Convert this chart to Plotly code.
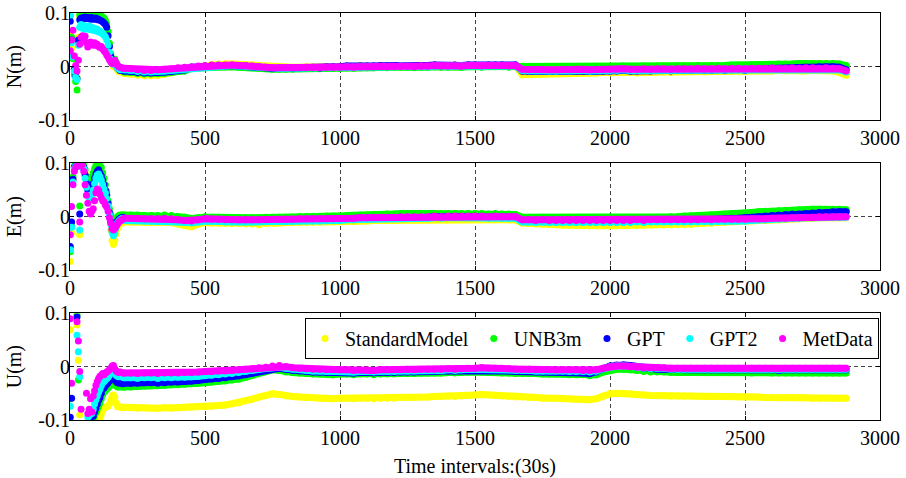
import plotly.graph_objects as go

# ---------------- data (values in millimetres) ----------------
EPOCHS_EARLY = list(range(1, 200, 5))        # 40 epochs, 1 .. 196
EPOCHS_LATE = list(range(200, 2876, 25))     # 108 epochs, 200 .. 2875

SERIES = ["StandardModel", "UNB3m", "GPT", "GPT2", "MetData"]
COLORS = ["#ffff00", "#00ff00", "#0000ff", "#00ffff", "#ff00ff"]
COMPONENTS = ["N(m)", "E(m)", "U(m)"]
X_TICKS = [0, 500, 1000, 1500, 2000, 2500, 3000]
Y_TICKS = [-0.1, 0, 0.1]
Y_TICK_TEXT = ["-0.1", "0", "0.1"]

# ---- N component ----
N_STD_E = [60, 35, 15, -5, -15, -20, 55, 95, 99, 97, 100, 98, 97, 99, 98, 99, 97, 98, 96, 97,
           95, 96, 93, 94, 91, 88, 84, 78, 62, 42, 22, 10, 0, 4, -2, -6, -9, -10, -10, -11]
N_UNB_E = [95, 55, 15, -15, -28, -44, 45, 97, 100, 98, 100, 99, 100, 98, 100, 97, 99, 98, 100, 97,
           98, 96, 97, 95, 93, 91, 87, 80, 66, 44, 24, 14, 10, 14, 8, 2, -2, -4, -5, -6]
N_GPT_E = [85, 50, 20, -5, -18, -22, 50, 88, 91, 89, 92, 93, 90, 92, 91, 89, 92, 89, 90, 91,
           88, 89, 87, 86, 84, 82, 79, 74, 58, 38, 19, 9, 5, 9, 2, -2, -5, -7, -7, -7]
N_GPT2_E = [97, 45, 18, -8, -20, -24, 40, 74, 79, 72, 77, 70, 75, 71, 76, 69, 74, 68, 72, 67,
            70, 65, 67, 63, 62, 59, 56, 50, 40, 27, 14, 7, 4, 8, 1, -2, -4, -6, -5, -5]
N_MET_E = [30, 50, 68, 20, 2, -8, 12, 42, 55, 58, 52, 57, 45, 37, 42, 46, 44, 40, 45, 40,
           42, 38, 36, 38, 33, 30, 27, 22, 18, 13, 9, 6, 8, 12, 7, 2, 0, -1, -2, -3]

N_STD_L = [-13, -14, -16, -17, -17, -16, -14, -12, -9, -6,
           -3, 0, 2, 4, 5, 5, 5, 4, 4, 3,
           1, 0, -1, -1, -1, -1, -1, 0, 0, -1,
           0, 0, 0, 1, 0, 2, 1, 1, 2, 1,
           2, 2, 2, 1, 3, 2, 3, 2, 2, 3,
           2, 3, 3, 2, 2, 2, 3, 2, 2,
           -15, -15, -14, -14, -13, -13, -13, -12, -12, -12,
           -12, -12, -11, -12, -11, -11, -11, -12, -11, -11,
           -10, -10, -11, -10, -10, -10, -9, -10, -9, -9,
           -9, -9, -8, -9, -8, -8, -8, -8, -7, -8,
           -7, -7, -8, -7, -7, -7, -8, -11, -16]
N_UNB_L = [-10, -11, -13, -14, -14, -13, -12, -11, -9, -8,
           -3, -2, -1, 0, 0, 0, 0, -1, -1, -2,
           -3, -4, -5, -5, -5, -5, -4, -3, -3, -4,
           -3, -3, -3, -2, -3, -2, -2, -2, -1, -2,
           -1, -1, -1, -2, -1, -1, 0, -1, -1, 0,
           -1, 0, 0, -1, 0, 0, 0, -1, 0,
           0, -1, -1, 0, -1, -1, 0, -1, 0, 0,
           -1, 0, 0, 0, 0, 1, 0, 0, 1, 0,
           1, 1, 0, 1, 1, 1, 2, 1, 2, 2,
           2, 3, 3, 2, 3, 4, 4, 4, 5, 5,
           5, 6, 6, 6, 6, 6, 6, 5, 2]
N_GPT_L = [-8, -9, -11, -12, -12, -11, -10, -9, -7, -6,
           -1, 0, 1, 2, 2, 2, 2, 1, 1, 0,
           -1, -2, -3, -3, -3, -3, -3, -2, -2, -3,
           0, 0, 0, 1, 0, 1, 1, 1, 2, 1,
           2, 2, 2, 1, 2, 2, 3, 2, 2, 3,
           2, 3, 3, 2, 3, 3, 3, 2, 3,
           -8, -9, -9, -8, -9, -9, -8, -9, -8, -8,
           -9, -8, -8, -8, -8, -7, -8, -8, -7, -8,
           -7, -7, -8, -7, -7, -7, -6, -7, -7, -6,
           -7, -6, -6, -7, -5, -5, -4, -3, -3, -3,
           -2, -2, -1, -1, 0, 0, 0, -1, -6]
N_GPT2_L = [-6, -7, -9, -10, -10, -9, -8, -7, -5, -4,
            -1, 0, 1, 2, 3, 2, 2, 1, 1, 0,
            -1, -2, -2, -3, -3, -2, -3, -2, -1, -2,
            -1, -1, -1, 0, -1, 0, 0, 0, 0, 0,
            0, 1, 0, 0, 1, 0, 1, 1, 0, 1,
            1, 1, 1, 0, 1, 1, 1, 1, 1,
            -7, -8, -8, -7, -8, -8, -7, -8, -7, -7,
            -8, -7, -7, -7, -7, -6, -7, -7, -6, -7,
            -6, -6, -7, -6, -6, -6, -5, -6, -6, -5,
            -6, -5, -5, -6, -5, -5, -5, -4, -5, -5,
            -4, -5, -4, -4, -4, -4, -5, -6, -10]
N_MET_L = [-3, -4, -6, -7, -7, -6, -5, -4, -2, -1,
           0, 1, 2, 3, 3, 3, 3, 2, 2, 1,
           0, -1, -2, -2, -2, -2, -2, -1, -1, -2,
           -1, -1, -1, 0, -1, 0, 0, 0, 1, 0,
           1, 1, 1, 0, 1, 1, 2, 1, 1, 2,
           1, 2, 2, 1, 2, 2, 2, 1, 2,
           -5, -6, -6, -5, -6, -6, -5, -6, -5, -5,
           -6, -5, -5, -5, -5, -4, -5, -5, -4, -5,
           -4, -4, -5, -4, -4, -4, -3, -4, -4, -3,
           -4, -3, -3, -4, -3, -3, -3, -2, -3, -3,
           -2, -3, -2, -2, -3, -2, -3, -4, -8]

# ---- E component ----
E_STD_E = [-84, -30, 70, 94, 97, 98, 97, -34, 96, 99, 95, 82, 68, 58, 52, 55, 62, 72, 82, 88,
           90, 92, 88, 80, 70, 60, 48, 36, 20, 0, -25, -45, -52, -45, -32, -22, -16, -13, -12, -11]
E_UNB_E = [-66, -19, 75, 95, 99, 100, 99, 20, 98, 100, 97, 88, 75, 68, 65, 68, 75, 82, 90, 96,
           98, 100, 97, 92, 82, 72, 60, 47, 30, 15, 4, -8, -14, -10, -4, 0, 2, 3, 3, 3]
E_GPT_E = [-56, -10, 70, 92, 95, 96, 95, 5, 95, 97, 92, 78, 62, 50, 45, 48, 55, 62, 72, 80,
           85, 88, 82, 76, 68, 60, 50, 40, 25, 8, -10, -25, -30, -25, -15, -8, -5, -3, -2, -1]
E_GPT2_E = [-62, -20, 65, 90, 94, 95, 94, -25, 93, 96, 90, 72, 55, 40, 32, 35, 42, 50, 62, 72,
            78, 80, 75, 68, 60, 52, 44, 34, 20, 4, -15, -30, -36, -30, -20, -12, -8, -6, -4, -3]
E_MET_E = [-34, 19, 60, 85, 92, 95, 98, -10, 95, 98, 85, 60, 40, 25, 10, 5, 10, 15, 30, 45,
           52, 50, 42, 35, 30, 28, 22, 18, 10, -2, -12, -22, -25, -22, -18, -14, -10, -8, -6, -5]

E_STD_L = [-10, -10, -10, -11, -11, -11, -10, -11, -14, -17,
           -19, -14, -11, -12, -12, -13, -13, -13, -14, -14,
           -15, -13, -12, -12, -11, -11, -10, -10, -10, -10,
           -10, -10, -10, -9, -9, -8, -8, -7, -7, -7,
           -7, -6, -6, -6, -6, -6, -5, -6, -5, -5,
           -5, -5, -5, -5, -6, -5, -6, -6, -6,
           -12, -13, -14, -14, -15, -15, -16, -16, -16, -17,
           -17, -17, -17, -17, -17, -17, -16, -16, -16, -15,
           -15, -15, -15, -14, -14, -14, -13, -12, -12, -11,
           -10, -9, -9, -8, -8, -7, -7, -6, -6, -5,
           -4, -4, -3, -3, -2, -2, -2, -2, -2]
E_UNB_L = [3, 3, 3, 2, 2, 2, 3, 2, 0, -1,
           -4, -2, 0, -1, -1, -2, -2, -2, -2, -2,
           -2, -1, -1, -1, -1, -1, 0, 0, 0, 0,
           1, 1, 1, 2, 2, 3, 3, 4, 4, 5,
           5, 6, 5, 5, 6, 6, 6, 5, 6, 6,
           6, 6, 6, 6, 5, 6, 5, 5, 4,
           -1, -1, -2, -1, -2, -2, -2, -3, -3, -3,
           -3, -3, -3, -3, -3, -3, -2, -2, -2, -1,
           -1, -1, 0, 0, 1, 1, 2, 2, 3, 4,
           5, 5, 6, 7, 8, 9, 10, 10, 11, 12,
           12, 13, 13, 14, 14, 14, 14, 14, 13]
E_GPT_L = [-5, -5, -5, -6, -6, -6, -5, -6, -8, -9,
           -10, -8, -6, -7, -7, -8, -8, -8, -8, -8,
           -8, -7, -7, -7, -7, -7, -6, -6, -6, -6,
           -5, -5, -5, -4, -4, -3, -3, -2, -2, -2,
           -2, -1, -1, -1, -1, -1, 0, -1, 0, 0,
           0, 0, 0, 0, -1, 0, -1, -1, -1,
           -9, -9, -10, -9, -10, -10, -10, -10, -10, -10,
           -10, -10, -10, -10, -10, -10, -10, -9, -10, -9,
           -9, -9, -9, -8, -8, -8, -7, -6, -6, -5,
           -4, -3, -3, -2, -1, 0, 1, 2, 3, 4,
           5, 5, 6, 7, 8, 8, 9, 9, 9]
E_GPT2_L = [-7, -7, -7, -8, -8, -8, -7, -8, -10, -11,
            -12, -10, -8, -9, -9, -10, -10, -10, -10, -10,
            -10, -9, -9, -9, -9, -9, -8, -8, -8, -8,
            -7, -7, -7, -6, -6, -5, -5, -4, -4, -4,
            -4, -3, -3, -3, -3, -3, -2, -3, -2, -2,
            -2, -2, -2, -2, -3, -2, -3, -3, -3,
            -10, -10, -11, -10, -11, -11, -11, -11, -11, -11,
            -11, -11, -11, -11, -11, -11, -11, -10, -11, -10,
            -10, -10, -10, -10, -10, -10, -10, -9, -10, -9,
            -9, -8, -8, -8, -7, -6, -6, -5, -4, -4,
            -3, -3, -2, -2, -1, -1, -1, -1, -1]
E_MET_L = [-3, -3, -3, -4, -4, -4, -3, -4, -6, -7,
           -8, -6, -4, -5, -5, -6, -6, -6, -6, -6,
           -6, -5, -5, -5, -5, -5, -4, -4, -4, -4,
           -4, -4, -4, -3, -3, -2, -2, -1, -1, -1,
           -1, 0, 0, 0, 0, 0, 1, 0, 1, 1,
           1, 1, 1, 1, 0, 1, 0, 0, 0,
           -6, -6, -7, -6, -7, -7, -7, -7, -7, -7,
           -7, -7, -7, -7, -7, -7, -7, -6, -7, -6,
           -6, -6, -6, -6, -6, -6, -6, -5, -6, -5,
           -5, -5, -5, -5, -4, -4, -4, -3, -3, -3,
           -2, -2, -1, -1, 0, 0, 0, 0, 0]

# ---- U component (values below -100 mm lie outside the plotted range) ----
U_STD_E = [69, -150, -150, -150, -150, 78, 12, -90, -150, -150,
           -150, -150, -150, -150, -150, -150, -150, -150, -150, -150,
           -150, -99, -97, -90, -82, -78, -76, -75, -74, -70,
           -62, -55, -53, -58, -68, -75, -74, -75, -77, -76]
U_UNB_E = [-60, -150, -150, -150, -150, 97, -25, -150, -150, -150,
           -150, -150, -150, -150, -150, -99, -96, -97, -92, -86,
           -80, -74, -68, -60, -52, -48, -45, -42, -40, -37,
           -35, -31, -30, -32, -36, -38, -38, -37, -38, -38]
U_GPT_E = [-95, -59, -150, -150, -150, 93, -150, -150, -150, -150,
           -150, -150, -150, -150, -98, -95, -90, -93, -85, -78,
           -70, -63, -58, -50, -42, -40, -36, -33, -30, -27,
           -24, -21, -20, -24, -28, -30, -31, -30, -31, -32]
U_GPT2_E = [-74, 150, -150, -150, -150, 59, 28, -19, -150, -150,
            -150, -150, -150, -95, -92, -85, -88, -80, -70, -62,
            -55, -48, -42, -36, -30, -28, -25, -22, -20, -16,
            -12, -8, -7, -12, -16, -18, -19, -18, -19, -20]
U_MET_E = [90, -31, -150, -150, -150, 84, 48, -9, -80, -150,
           -150, -150, -50, -88, -80, -60, -85, -55, -45, -35,
           -28, -22, -18, -16, -13, -15, -12, -10, -8, -6,
           -3, 1, 2, -4, -8, -10, -11, -10, -11, -12]

U_STD_L = [-76, -77, -78, -77, -78, -78, -77, -78, -77, -76,
           -76, -75, -75, -74, -73, -72, -70, -68, -64, -61,
           -57, -54, -51, -52, -55, -56, -57, -58, -58, -59,
           -59, -60, -59, -59, -60, -59, -59, -60, -59, -59,
           -59, -58, -58, -58, -57, -57, -56, -56, -55, -56,
           -55, -54, -53, -52, -53, -54, -55, -56, -57,
           -57, -58, -58, -59, -59, -59, -60, -60, -61, -61,
           -62, -60, -55, -51, -50, -50, -51, -52, -53, -54,
           -54, -54, -55, -55, -55, -55, -56, -56, -56, -56,
           -56, -56, -57, -57, -57, -57, -58, -58, -58, -58,
           -58, -58, -58, -59, -59, -59, -59, -59, -59]
U_UNB_L = [-38, -38, -37, -36, -36, -36, -35, -34, -34, -33,
           -32, -31, -30, -29, -28, -27, -25, -23, -20, -16,
           -12, -9, -6, -7, -10, -11, -12, -13, -14, -14,
           -14, -15, -14, -14, -15, -14, -14, -15, -14, -14,
           -14, -13, -13, -13, -12, -12, -12, -12, -11, -12,
           -11, -10, -10, -10, -11, -11, -12, -12, -13,
           -13, -13, -13, -14, -14, -14, -14, -15, -15, -15,
           -17, -15, -10, -6, -5, -5, -6, -7, -9, -10,
           -10, -10, -11, -11, -11, -11, -11, -11, -11, -11,
           -11, -11, -11, -11, -12, -11, -11, -12, -12, -12,
           -12, -12, -12, -12, -12, -12, -12, -12, -12]
U_GPT_L = [-31, -31, -31, -30, -30, -31, -30, -29, -29, -28,
           -27, -26, -24, -23, -22, -21, -19, -17, -15, -12,
           -9, -6, -3, -3, -5, -7, -8, -9, -10, -10,
           -11, -11, -11, -11, -12, -11, -11, -12, -11, -11,
           -11, -10, -10, -10, -9, -9, -9, -8, -8, -8,
           -7, -6, -6, -5, -6, -6, -7, -8, -9,
           -9, -9, -10, -10, -10, -10, -10, -11, -11, -12,
           -13, -10, -4, 1, 3, 3, 2, 0, -3, -4,
           -5, -5, -6, -6, -6, -6, -6, -6, -6, -6,
           -6, -6, -6, -6, -6, -6, -6, -6, -7, -6,
           -6, -6, -6, -6, -6, -6, -6, -6, -6]
U_GPT2_L = [-21, -21, -22, -21, -21, -22, -21, -21, -20, -20,
            -19, -18, -17, -16, -15, -14, -13, -11, -9, -7,
            -5, -3, -1, -1, -3, -5, -6, -7, -8, -8,
            -9, -9, -9, -9, -10, -9, -9, -10, -9, -9,
            -9, -8, -8, -8, -7, -7, -7, -7, -6, -7,
            -6, -5, -5, -4, -5, -5, -5, -6, -7,
            -7, -7, -8, -8, -8, -8, -8, -9, -9, -9,
            -10, -8, -4, 0, 1, 1, 0, -2, -3, -4,
            -4, -4, -5, -5, -5, -5, -5, -5, -5, -5,
            -5, -5, -5, -5, -5, -5, -5, -5, -6, -5,
            -5, -5, -5, -5, -5, -5, -5, -5, -5]
U_MET_L = [-12, -12, -13, -12, -12, -13, -12, -12, -12, -11,
           -11, -10, -9, -9, -8, -8, -7, -6, -5, -4,
           -2, -1, 1, 2, 0, -2, -3, -4, -5, -5,
           -6, -6, -6, -6, -7, -6, -6, -7, -6, -6,
           -6, -6, -5, -6, -5, -5, -5, -5, -4, -5,
           -4, -3, -3, -2, -3, -3, -3, -4, -5,
           -5, -5, -6, -6, -6, -6, -6, -6, -6, -7,
           -7, -6, -3, 0, 1, 1, 0, -1, -2, -2,
           -2, -2, -3, -3, -3, -3, -3, -3, -3, -3,
           -3, -3, -3, -3, -3, -3, -3, -3, -4, -3,
           -3, -3, -3, -3, -3, -3, -3, -3, -3]

EARLY = {
    "N(m)": [N_STD_E, N_UNB_E, N_GPT_E, N_GPT2_E, N_MET_E],
    "E(m)": [E_STD_E, E_UNB_E, E_GPT_E, E_GPT2_E, E_MET_E],
    "U(m)": [U_STD_E, U_UNB_E, U_GPT_E, U_GPT2_E, U_MET_E],
}
LATE = {
    "N(m)": [N_STD_L, N_UNB_L, N_GPT_L, N_GPT2_L, N_MET_L],
    "E(m)": [E_STD_L, E_UNB_L, E_GPT_L, E_GPT2_L, E_MET_L],
    "U(m)": [U_STD_L, U_UNB_L, U_GPT_L, U_GPT2_L, U_MET_L],
}

# ---------------- figure ----------------
W, H = 906, 478
FONT = "Liberation Serif, Times New Roman, serif"
PLOT_LEFT, PLOT_RIGHT = 70, 880
ROWS_PX = [(13.3, 120), (163.3, 270), (313.3, 420)]
MSIZE = 7

fig = go.Figure()
for r, comp in enumerate(COMPONENTS):
    suffix = "" if r == 0 else str(r + 1)
    for i, (name, color) in enumerate(zip(SERIES, COLORS)):
        # first epochs: scattered individual solutions
        fig.add_trace(go.Scatter(
            x=EPOCHS_EARLY, y=[v / 1000.0 for v in EARLY[comp][i]],
            mode="markers", name=name,
            marker=dict(color=color, size=MSIZE, line=dict(width=0)),
            xaxis="x" + suffix, yaxis="y" + suffix,
            showlegend=(r == 2), legendgroup=name, cliponaxis=True,
            hoverinfo="skip",
        ))
        # converged part: dense epochs drawn as a continuous dotted band
        fig.add_trace(go.Scatter(
            x=EPOCHS_LATE, y=[v / 1000.0 for v in LATE[comp][i]],
            mode="lines+markers", name=name,
            line=dict(color=color, width=MSIZE),
            marker=dict(color=color, size=MSIZE, line=dict(width=0)),
            xaxis="x" + suffix, yaxis="y" + suffix,
            showlegend=False, legendgroup=name, cliponaxis=True,
            hoverinfo="skip",
        ))

axis_common = dict(
    showline=True, linecolor="black", linewidth=1, mirror="ticks",
    ticks="inside", ticklen=4, tickcolor="black", tickwidth=1,
    showgrid=True, gridcolor="#444444", gridwidth=1, griddash="4px,3px",
    zeroline=False, automargin=False,
    tickfont=dict(family=FONT, size=20, color="black"),
)

layout = dict(
    width=W, height=H,
    margin=dict(l=0, r=0, t=0, b=0, autoexpand=False),
    paper_bgcolor="white", plot_bgcolor="white",
    showlegend=True,
    legend=dict(
        orientation="h", x=879 / W, xanchor="right", y=1 - 318 / H, yanchor="top",
        bordercolor="black", borderwidth=1, bgcolor="white",
        font=dict(family=FONT, size=20, color="black"),
        tracegroupgap=0, itemsizing="trace",
    ),
)

for r, comp in enumerate(COMPONENTS):
    suffix = "" if r == 0 else str(r + 1)
    top, bottom = ROWS_PX[r]
    xa = dict(axis_common)
    xa.update(
        domain=[PLOT_LEFT / W, PLOT_RIGHT / W], range=[0, 3000],
        tickvals=X_TICKS, ticktext=[str(t) for t in X_TICKS],
        anchor="y" + suffix, ticklabelstandoff=0,
    )
    if r == 2:
        xa["title"] = dict(text="Time intervals:(30s)", font=dict(family=FONT, size=20, color="black"), standoff=10)
    ya = dict(axis_common)
    ya.update(
        domain=[1 - bottom / H, 1 - top / H], range=[-0.1, 0.1],
        tickvals=Y_TICKS, ticktext=Y_TICK_TEXT,
        anchor="x" + suffix, ticklabelstandoff=-5,
        title=dict(text=comp, font=dict(family=FONT, size=20, color="black"), standoff=11),
    )
    layout["xaxis" + suffix] = xa
    layout["yaxis" + suffix] = ya

fig.update_layout(**layout)
fig.write_html(
    "out.html",
    config={"displayModeBar": False},
    post_script="document.body.style.margin='0px';document.body.style.overflow='hidden';",
)
